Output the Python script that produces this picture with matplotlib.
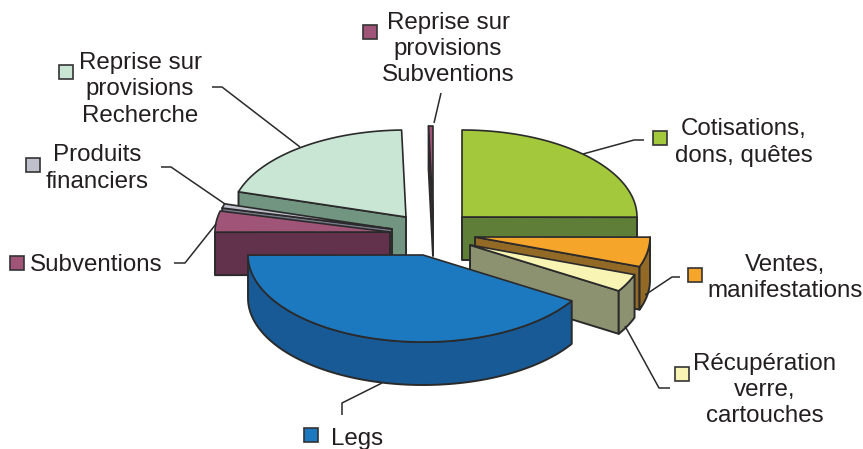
import numpy as np
import matplotlib
matplotlib.use('Agg')
import matplotlib.pyplot as plt
from matplotlib.patches import Polygon

# share of each source, in %, clockwise from 12 o'clock
sources = ['Cotisations,\ndons, quêtes', 'Ventes,\nmanifestations', 'Récupération\nverre,\ncartouches',
           'Legs', 'Subventions', 'Produits\nfinanciers', 'Reprise sur\nprovisions\nRecherche',
           'Reprise sur\nprovisions\nSubventions']
shares = [25.0, 5.5, 3.3, 41.1, 3.9, 0.8, 19.9, 0.4]

top_colors = ['#a4c83c', '#f6a52b', '#f8f4b3', '#1c79bf', '#a05578', '#bec1cc', '#c9e6d5', '#a05578']
side_colors = ['#5f7f38', '#926a25', '#8c9270', '#175a96', '#62314c', '#77798a', '#719580', '#62314c']

# pie shape, in pixels of the output
center = (430, 232)
rx, ry, depth = 175, 87, 43
explode = [(32, -15), (45, 5), (40, 13), (-7, 23), (-40, 0), (-38, -3), (-24, -15), (3, -19)]
draw_order = [0, 6, 7, 5, 4, 1, 2, 3]
edge = '#2b2a2b'

# x, y of label centre, legend square, leader line
label_xy = [(744, 142.5), (785, 278), (765, 390), (357, 439), (96, 265), (97, 168.5), (140, 89.5), (448, 49)]
square_xy = [(660, 138), (695, 275), (682, 374), (311, 435), (17, 263), (33, 165), (66, 72), (370, 32)]
leaders = [
	[(644, 140), (634, 140), (583, 154)],
	[(680, 277), (672, 277), (645, 295)],
	[(670, 388), (659, 388), (625, 326)],
	[(342, 415), (342, 403), (382, 383)],
	[(174, 263), (185, 263), (216, 224)],
	[(161, 167), (171, 167), (225, 204)],
	[(212, 87), (222, 87), (300, 147)],
	[(441, 93), (434, 123)],
]


def rim(apex, t0, t1):
	t = np.linspace(t0, t1, max(int(abs(t1 - t0) * 40), 2))
	return t, np.column_stack((apex[0] + rx * np.sin(t), apex[1] - ry * np.cos(t)))


def face_shows(apex, end, inside):
	# a cut face shows when the top of the slice lies above its edge
	d = end - apex
	c = inside - apex
	if abs(d[0]) < 1e-6:
		return False
	return c[1] < d[1] / d[0] * c[0]


def draw_slice(ax, apex, t0, t1, top, side):
	drop = np.array([0, depth])
	apex = np.array(apex, dtype=float)
	t, arc = rim(apex, t0, t1)
	inside = arc[len(arc) // 2]
	for end in (arc[0], arc[-1]):
		if face_shows(apex, end, inside):
			ax.add_patch(Polygon([apex, end, end + drop, apex + drop], fc=side, ec=edge, lw=1.4, joinstyle='round'))
	# outer wall only shows on the lower half of the ellipse
	front = arc[(t > np.pi / 2 - 0.01) & (t < 3 * np.pi / 2 + 0.01)]
	if len(front) > 1:
		ax.add_patch(Polygon(np.vstack((front, (front + drop)[::-1])), fc=side, ec=edge, lw=1.4, joinstyle='round'))
	ax.add_patch(Polygon(np.vstack((apex, arc)), fc=top, ec=edge, lw=1.2, joinstyle='round'))


plt.rcParams['font.family'] = ['Liberation Sans', 'DejaVu Sans']

fig = plt.figure(figsize=(8.63, 4.49), dpi=100)
ax = fig.add_axes([0, 0, 1, 1])
ax.set_xlim(0, 863)
ax.set_ylim(449, 0)
ax.axis('off')

bounds = np.concatenate(([0], np.cumsum(shares))) / sum(shares) * 2 * np.pi

for i in draw_order:
	apex = (center[0] + explode[i][0], center[1] + explode[i][1])
	draw_slice(ax, apex, bounds[i], bounds[i + 1], top_colors[i], side_colors[i])

for i in range(len(sources)):
	xs, ys = zip(*leaders[i])
	ax.plot(xs, ys, color=edge, lw=1.1, solid_capstyle='butt')
	ax.plot(square_xy[i][0], square_xy[i][1], 's', ms=10, mfc=top_colors[i], mec='#333333', mew=1.2)
	ax.text(label_xy[i][0], label_xy[i][1], sources[i], ha='center', va='center', fontsize=17.4,
	        color='#231f20', linespacing=1.24, multialignment='center')

fig.savefig('out.png', dpi=100)
